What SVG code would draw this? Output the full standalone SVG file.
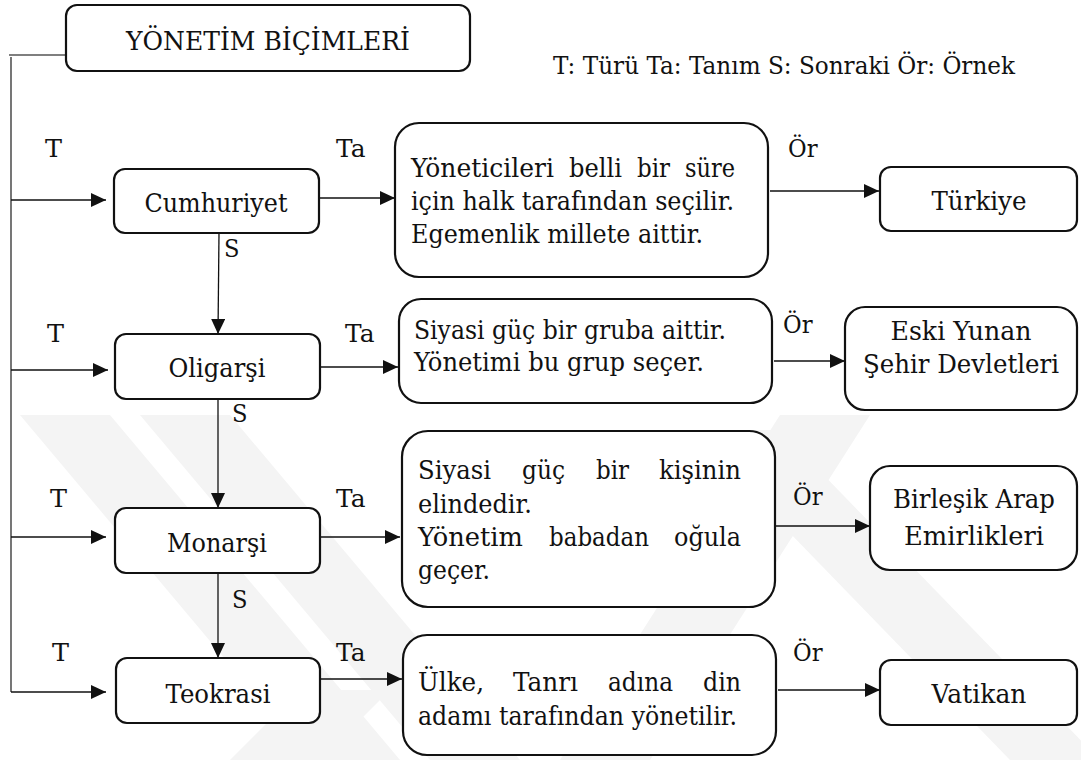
<svg xmlns="http://www.w3.org/2000/svg" width="1081" height="760" viewBox="0 0 1081 760">
<style>
text{font-family:"DejaVu Serif",serif;fill:#111}
.box{fill:#fff;stroke:#111;stroke-width:2.2}
.nm{font-size:26.5px;text-anchor:middle}
.df{font-size:26px}
.lb{font-size:25px}
.c{stroke:#111;stroke-width:1.3;fill:none}
.tr{stroke:#555;stroke-width:1.6;fill:none}
</style>
<defs>
<marker id="ah" markerUnits="userSpaceOnUse" markerWidth="16" markerHeight="14" refX="15" refY="7" orient="auto">
<path d="M0,0 L15,7 L0,14 z" fill="#111"/>
</marker>
</defs>
<rect width="1081" height="760" fill="#fff"/>
<g id="watermark" fill="#f4f4f4">
<polygon points="20,415 110,415 400,760 310,760"/>
<polygon points="140,415 230,415 520,760 430,760"/>
<polygon points="560,760 650,760 870,415 780,415"/>
<polygon points="690,430 780,430 1100,760 1010,760"/>
<polygon points="230,760 320,760 390,690 300,690"/>
</g>
<g id="connectors">
<path class="tr" d="M66,55 H9 M11,57 V692"/>
<line class="c" x1="11" y1="200" x2="106" y2="200" marker-end="url(#ah)"/>
<line class="c" x1="11" y1="370" x2="108" y2="370" marker-end="url(#ah)"/>
<line class="c" x1="11" y1="537" x2="106" y2="537" marker-end="url(#ah)"/>
<line class="c" x1="11" y1="692" x2="106" y2="692" marker-end="url(#ah)"/>
<line class="c" x1="319" y1="198" x2="395" y2="198" marker-end="url(#ah)"/>
<line class="c" x1="320" y1="367" x2="398" y2="367" marker-end="url(#ah)"/>
<line class="c" x1="320" y1="537" x2="400" y2="537" marker-end="url(#ah)"/>
<line class="c" x1="321" y1="679" x2="402" y2="679" marker-end="url(#ah)"/>
<line class="c" x1="770" y1="191" x2="879" y2="191" marker-end="url(#ah)"/>
<line class="c" x1="774" y1="361" x2="845" y2="361" marker-end="url(#ah)"/>
<line class="c" x1="775" y1="526" x2="870" y2="526" marker-end="url(#ah)"/>
<line class="c" x1="778" y1="690" x2="880" y2="690" marker-end="url(#ah)"/>
<line class="c" x1="219" y1="233" x2="218" y2="334" marker-end="url(#ah)"/>
<line class="c" x1="218" y1="399" x2="218" y2="508" marker-end="url(#ah)"/>
<line class="c" x1="218" y1="573" x2="218" y2="658" marker-end="url(#ah)"/>
<text class="lb" x="45" y="157" textLength="17" lengthAdjust="spacingAndGlyphs">T</text>
<text class="lb" x="47" y="342" textLength="17" lengthAdjust="spacingAndGlyphs">T</text>
<text class="lb" x="50" y="507" textLength="17" lengthAdjust="spacingAndGlyphs">T</text>
<text class="lb" x="52" y="661" textLength="17" lengthAdjust="spacingAndGlyphs">T</text>
<text class="lb" x="336" y="157" textLength="29.5" lengthAdjust="spacingAndGlyphs">Ta</text>
<text class="lb" x="345" y="342" textLength="29.5" lengthAdjust="spacingAndGlyphs">Ta</text>
<text class="lb" x="336" y="507" textLength="29.5" lengthAdjust="spacingAndGlyphs">Ta</text>
<text class="lb" x="336" y="661" textLength="29.5" lengthAdjust="spacingAndGlyphs">Ta</text>
<text class="lb" x="224" y="257" textLength="15.5" lengthAdjust="spacingAndGlyphs">S</text>
<text class="lb" x="232" y="422" textLength="15.5" lengthAdjust="spacingAndGlyphs">S</text>
<text class="lb" x="232" y="608" textLength="15.5" lengthAdjust="spacingAndGlyphs">S</text>
<text class="lb" x="788" y="157" textLength="29.5" lengthAdjust="spacingAndGlyphs">Ör</text>
<text class="lb" x="783" y="333" textLength="29.5" lengthAdjust="spacingAndGlyphs">Ör</text>
<text class="lb" x="793" y="505" textLength="29.5" lengthAdjust="spacingAndGlyphs">Ör</text>
<text class="lb" x="793" y="661" textLength="29.5" lengthAdjust="spacingAndGlyphs">Ör</text>
</g>
<g id="title">
<rect class="box" x="66" y="5" width="404" height="66" rx="11"/>
<text x="268" y="50" style="font-size:25.5px;text-anchor:middle" textLength="284" lengthAdjust="spacingAndGlyphs">YÖNETİM BİÇİMLERİ</text>
</g>
<g id="legend">
<text x="553" y="74" style="font-size:25px" textLength="462" lengthAdjust="spacingAndGlyphs">T: Türü Ta: Tanım S: Sonraki Ör: Örnek</text>
</g>
<g id="cumhuriyet">
<rect class="box" x="114" y="169" width="205" height="64" rx="11"/>
<text class="nm" x="216" y="212" textLength="143" lengthAdjust="spacingAndGlyphs">Cumhuriyet</text>
</g>
<g id="oligarsi">
<rect class="box" x="115" y="334" width="205" height="65" rx="11"/>
<text class="nm" x="217" y="377" textLength="97" lengthAdjust="spacingAndGlyphs">Oligarşi</text>
</g>
<g id="monarsi">
<rect class="box" x="115" y="508" width="205" height="65" rx="11"/>
<text class="nm" x="217" y="552" textLength="100" lengthAdjust="spacingAndGlyphs">Monarşi</text>
</g>
<g id="teokrasi">
<rect class="box" x="116" y="658" width="204" height="65" rx="11"/>
<text class="nm" x="218" y="703" textLength="105" lengthAdjust="spacingAndGlyphs">Teokrasi</text>
</g>
<g id="tanim1">
<rect class="box" x="395" y="123" width="373" height="154" rx="24"/>
<text class="df" x="411" y="177" textLength="143" lengthAdjust="spacingAndGlyphs">Yöneticileri</text>
<text class="df" x="569" y="177" textLength="53" lengthAdjust="spacingAndGlyphs">belli</text>
<text class="df" x="637" y="177" textLength="33" lengthAdjust="spacingAndGlyphs">bir</text>
<text class="df" x="685" y="177" textLength="50" lengthAdjust="spacingAndGlyphs">süre</text>
<text class="df" x="411" y="210" textLength="323" lengthAdjust="spacingAndGlyphs">için halk tarafından seçilir.</text>
<text class="df" x="411" y="243" textLength="292" lengthAdjust="spacingAndGlyphs">Egemenlik millete aittir.</text>
</g>
<g id="tanim2">
<rect class="box" x="399" y="299" width="373" height="104" rx="22"/>
<text class="df" x="414" y="339" textLength="312" lengthAdjust="spacingAndGlyphs">Siyasi güç bir gruba aittir.</text>
<text class="df" x="414" y="371" textLength="290" lengthAdjust="spacingAndGlyphs">Yönetimi bu grup seçer.</text>
</g>
<g id="tanim3">
<rect class="box" x="402" y="431" width="373" height="176" rx="26"/>
<text class="df" x="418" y="479" textLength="73" lengthAdjust="spacingAndGlyphs">Siyasi</text>
<text class="df" x="522" y="479" textLength="43" lengthAdjust="spacingAndGlyphs">güç</text>
<text class="df" x="596" y="479" textLength="33" lengthAdjust="spacingAndGlyphs">bir</text>
<text class="df" x="659" y="479" textLength="82" lengthAdjust="spacingAndGlyphs">kişinin</text>
<text class="df" x="418" y="513" textLength="114" lengthAdjust="spacingAndGlyphs">elindedir.</text>
<text class="df" x="418" y="546" textLength="105" lengthAdjust="spacingAndGlyphs">Yönetim</text>
<text class="df" x="549" y="546" textLength="100" lengthAdjust="spacingAndGlyphs">babadan</text>
<text class="df" x="674" y="546" textLength="67" lengthAdjust="spacingAndGlyphs">oğula</text>
<text class="df" x="418" y="579" textLength="72" lengthAdjust="spacingAndGlyphs">geçer.</text>
</g>
<g id="tanim4">
<rect class="box" x="403" y="635" width="373" height="120" rx="24"/>
<text class="df" x="418" y="691" textLength="66" lengthAdjust="spacingAndGlyphs">Ülke,</text>
<text class="df" x="513" y="691" textLength="65" lengthAdjust="spacingAndGlyphs">Tanrı</text>
<text class="df" x="608" y="691" textLength="65" lengthAdjust="spacingAndGlyphs">adına</text>
<text class="df" x="703" y="691" textLength="38" lengthAdjust="spacingAndGlyphs">din</text>
<text class="df" x="418" y="725" textLength="319" lengthAdjust="spacingAndGlyphs">adamı tarafından yönetilir.</text>
</g>
<g id="turkiye">
<rect class="box" x="880" y="167" width="197" height="64" rx="11"/>
<text class="nm" x="979" y="210" textLength="95" lengthAdjust="spacingAndGlyphs">Türkiye</text>
</g>
<g id="eskiyunan">
<rect class="box" x="845" y="307" width="232" height="103" rx="20"/>
<text class="nm" x="961" y="340" textLength="141" lengthAdjust="spacingAndGlyphs">Eski Yunan</text>
<text class="nm" x="961" y="373" textLength="196" lengthAdjust="spacingAndGlyphs">Şehir Devletleri</text>
</g>
<g id="birlesik">
<rect class="box" x="870" y="466" width="207" height="104" rx="20"/>
<text class="nm" x="974" y="508" textLength="162" lengthAdjust="spacingAndGlyphs">Birleşik Arap</text>
<text class="nm" x="974" y="545" textLength="140" lengthAdjust="spacingAndGlyphs">Emirlikleri</text>
</g>
<g id="vatikan">
<rect class="box" x="880" y="660" width="197" height="65" rx="11"/>
<text class="nm" x="979" y="703" textLength="95" lengthAdjust="spacingAndGlyphs">Vatikan</text>
</g>
</svg>
